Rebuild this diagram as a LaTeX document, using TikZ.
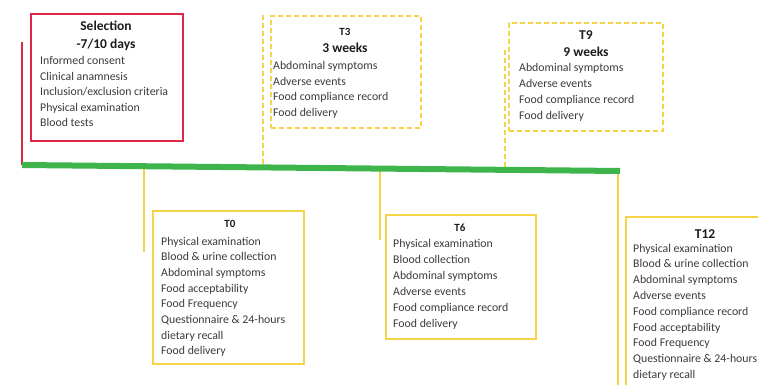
\documentclass[tikz,border=0pt]{standalone}
\usepackage{fontspec}
\setmainfont{Carlito}
\definecolor{selred}{HTML}{DC2846}
\definecolor{tyellow}{HTML}{F5D447}
\definecolor{tgreen}{HTML}{3DB54A}
\definecolor{txt}{HTML}{3A3A3A}
\definecolor{ttxt}{HTML}{1C1C1C}
\tikzset{
  redbox/.style={draw=selred, line width=2pt, anchor=north west, inner sep=0pt},
  ybox/.style={draw=tyellow, line width=1.8pt, anchor=north west, inner sep=0pt},
  ydashbox/.style={ybox, dash pattern=on 5pt off 3pt},
  body/.style={anchor=base west, inner sep=0pt, text=txt, font=\fontsize{11.8}{14}\selectfont},
  bigttl/.style={anchor=base, inner sep=0pt, text=ttxt, font=\fontsize{13.5}{16}\selectfont\bfseries},
  smallttl/.style={anchor=base, inner sep=0pt, text=ttxt, font=\fontsize{11}{13}\selectfont\bfseries},
  yconn/.style={draw=tyellow, line width=1.8pt},
  ydconn/.style={yconn, dash pattern=on 5pt off 3pt},
}
\begin{document}
\begin{tikzpicture}[x=1pt, y=-1pt]
\useasboundingbox (0,0) rectangle (758,385);
\clip (0,0) rectangle (758,385);

% timeline coordinates
\coordinate (tl-s) at (22,165);
\coordinate (tl-e) at (620,171);
\coordinate (c-sel-top) at (22,42);
\coordinate (c0-a) at (144,166.5);
\coordinate (c0-b) at (144,252);
\coordinate (c3-a) at (263,15);
\coordinate (c3-b) at (263,167.5);
\coordinate (c6-a) at (380,169);
\coordinate (c6-b) at (380,240);
\coordinate (c9-a) at (505,50);
\coordinate (c9-b) at (505,169.5);
\coordinate (c12-a) at (618,171);
\coordinate (c12-b) at (618,390);

% connectors
\draw[selred, line width=2.5pt] (c-sel-top) -- (tl-s);
\draw[yconn] (c0-a) -- (c0-b);
\draw[ydconn] (c3-a) -- (c3-b);
\draw[yconn] (c6-a) -- (c6-b);
\draw[ydconn] (c9-a) -- (c9-b);
\draw[yconn] (c12-a) -- (c12-b);
\draw[tgreen, line width=6pt] (tl-s) -- (tl-e);

% Selection
\node[redbox, minimum width=152pt, minimum height=127pt] (sel) at (30,13) {};
\node[bigttl] (sel-t1) at (106,30.5) {Selection};
\node[bigttl] (sel-t2) at (106,48.5) {-7/10 days};
\foreach \s [count=\i] in {Informed consent, Clinical anamnesis, Inclusion/exclusion criteria, Physical examination, Blood tests}
  \node[body] (sel-\i) at (40,{65+15.5*(\i-1)}) {\s};

% T3
\node[ydashbox, minimum width=150pt, minimum height=112pt] (t3) at (270,15) {};
\node[smallttl] (t3-t1) at (345,35.5) {T3};
\node[bigttl] (t3-t2) at (345,52.5) {3 weeks};
\foreach \s [count=\i] in {Abdominal symptoms, Adverse events, Food compliance record, Food delivery}
  \node[body] (t3-\i) at (273,{70+15.5*(\i-1)}) {\s};

% T9
\node[ydashbox, minimum width=154pt, minimum height=108pt] (t9) at (508,22) {};
\node[bigttl] (t9-t1) at (586,39.5) {T9};
\node[bigttl] (t9-t2) at (586,56.5) {9 weeks};
\foreach \s [count=\i] in {Abdominal symptoms, Adverse events, Food compliance record, Food delivery}
  \node[body] (t9-\i) at (519,{72+16*(\i-1)}) {\s};

% T0
\node[ybox, minimum width=151pt, minimum height=153pt] (t0) at (152,210) {};
\node[smallttl] (t0-t1) at (230,227) {T0};
\foreach \s [count=\i] in {Physical examination, Blood \& urine collection, Abdominal symptoms, Food acceptability, Food Frequency, Questionnaire \& 24-hours, dietary recall, Food delivery}
  \node[body] (t0-\i) at (161,{245+15.7*(\i-1)}) {\s};

% T6
\node[ybox, minimum width=150pt, minimum height=124pt] (t6) at (385,214) {};
\node[smallttl] (t6-t1) at (460,231) {T6};
\foreach \s [count=\i] in {Physical examination, Blood collection, Abdominal symptoms, Adverse events, Food compliance record, Food delivery}
  \node[body] (t6-\i) at (393,{247+16*(\i-1)}) {\s};

% T12
\node[ybox, minimum width=150pt, minimum height=190pt] (t12) at (625,216) {};
\node[bigttl] (t12-t1) at (705,238) {T12};
\foreach \s [count=\i] in {Physical examination, Blood \& urine collection, Abdominal symptoms, Adverse events, Food compliance record, Food acceptability, Food Frequency, Questionnaire \& 24-hours, dietary recall}
  \node[body] (t12-\i) at (633,{252+15.8*(\i-1)}) {\s};
\end{tikzpicture}
\end{document}
